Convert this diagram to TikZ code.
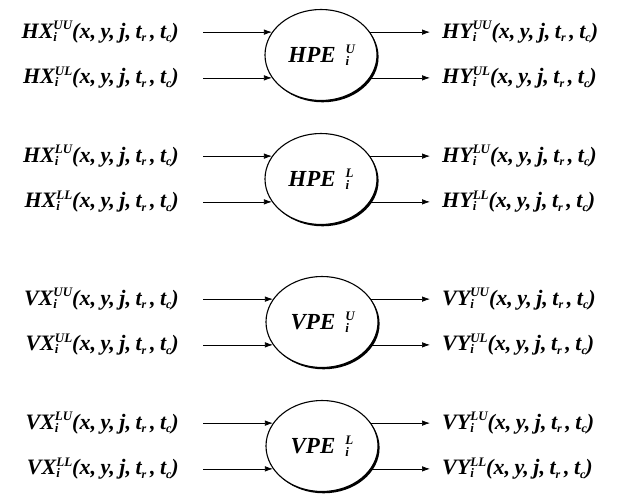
\documentclass[tikz,border=0pt]{standalone}
\usepackage{fontspec}
\setmainfont{Liberation Serif}
\usetikzlibrary{shapes.geometric,arrows.meta,shadows}
\newcommand{\supsub}[2]{\begingroup\fontsize{13}{13}\selectfont
  \setbox0=\hbox{#1}\setbox2=\hbox{#2}%
  \ifdim\wd0>\wd2 \dimen0=\wd0 \else \dimen0=\wd2 \fi
  \rlap{\raisebox{8.5pt}{\box0}}\rlap{\raisebox{-3pt}{\box2}}\hspace{\dimen0}\endgroup}
\newcommand{\tsub}[2]{#1\raisebox{-3.5pt}{\fontsize{12}{12}\selectfont #2}}
\newcommand{\csp}{\hspace{4.5pt}}
\newcommand{\args}{(x,\csp y,\csp j,\csp\tsub{t}{r}\,,\csp\tsub{t}{c})}
\newcommand{\lab}[2]{#1\supsub{#2}{i}\args}
\newcommand{\pegroup}[7]{%
  \node[pe] (#1) at (#2,#3) {\hspace*{-8pt}#4\hspace{10pt}\supsub{#5}{i}};
  \draw[arr] (#1.155 -| tx) -- (#1.155);
  \draw[arr] (#1.205 -| tx) -- (#1.205);
  \draw[arr] (#1.25) -- (#1.25 -| hx);
  \draw[arr] (#1.335) -- (#1.335 -| hx);
  \node[lbl, anchor=base east] (#1xa) at ([xshift=-24pt,yshift=-6pt]#1.155 -| tx) {\lab{#6}{#5U}};
  \node[lbl, anchor=base east] (#1xb) at ([xshift=-24pt,yshift=-6pt]#1.205 -| tx) {\lab{#6}{#5L}};
  \node[lbl, anchor=base west] (#1ya) at ([xshift=12pt,yshift=-6pt]#1.25 -| hx) {\lab{#7}{#5U}};
  \node[lbl, anchor=base west] (#1yb) at ([xshift=12pt,yshift=-6pt]#1.335 -| hx) {\lab{#7}{#5L}};
}
\begin{document}
\begin{tikzpicture}[x=1pt,y=-1pt,
  pe/.style={ellipse, draw, line width=1.1pt, minimum width=112pt, minimum height=91pt,
    inner sep=0pt, fill=white, font=\fontsize{23}{26}\selectfont\bfseries\itshape,
    drop shadow={shadow xshift=1.6pt, shadow yshift=-1.8pt, fill=black, opacity=1}},
  arr/.style={-{Latex[length=8pt,width=5.5pt]}, line width=0.7pt},
  lbl/.style={inner sep=0pt, font=\fontsize{22}{25}\selectfont\bfseries\itshape}]
\useasboundingbox (0,0) rectangle (621,495);
\fill[white] (0,0) rectangle (621,495);
\coordinate (tx) at (203,0);
\coordinate (hx) at (430,0);
\pegroup{e1}{321}{55}{HPE}{U}{HX}{HY}
\pegroup{e2}{321}{179}{HPE}{L}{HX}{HY}
\pegroup{e3}{322}{322}{VPE}{U}{VX}{VY}
\pegroup{e4}{322}{446}{VPE}{L}{VX}{VY}
\end{tikzpicture}
\end{document}
